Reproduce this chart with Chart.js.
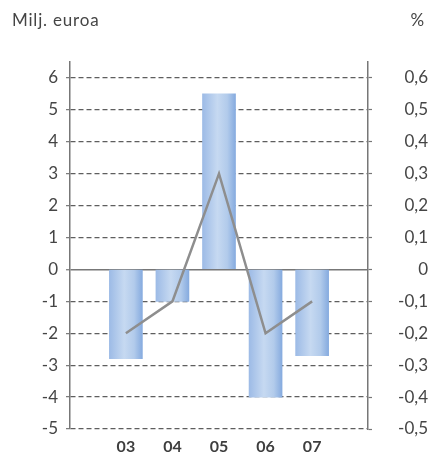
<!DOCTYPE html>
<html><head><meta charset="utf-8">
<script src="https://cdn.jsdelivr.net/npm/chart.js@4"></script>
<style>html,body{margin:0;padding:0;background:#fff}#wrap{width:428px;height:453px;position:relative}</style>
</head><body><div id="wrap"><canvas id="c" width="428" height="453"></canvas></div>
<script>
const years = [3, 4, 5, 6, 7];
const yearLabels = ['03', '04', '05', '06', '07'];
const barValues = [-2.8, -1.0, 5.5, -4.0, -2.7];      // Milj. euroa
const lineValues = [-0.2, -0.1, 0.3, -0.2, -0.1];     // %
const leftTicks = [-5, -4, -3, -2, -1, 0, 1, 2, 3, 4, 5, 6];
const rightTicks = [-0.5, -0.4, -0.3, -0.2, -0.1, 0, 0.1, 0.2, 0.3, 0.4, 0.5, 0.6];
const leftTitle = 'Milj. euroa';
const rightTitle = '%';

const FONT = 'Lato, "Noto Sans", sans-serif';
const TXT = '#454545';

function barGradient(ctx) {
  const chart = ctx.chart;
  const xs = chart.scales && chart.scales.x;
  if (!xs || ctx.dataIndex === undefined) return '#b3cceb';
  const cx = xs.getPixelForValue(years[ctx.dataIndex]);
  if (!isFinite(cx)) return '#b3cceb';
  const w = 33;
  const g = chart.ctx.createLinearGradient(cx - w / 2, 0, cx + w / 2, 0);
  g.addColorStop(0, '#9dbbe6');
  g.addColorStop(0.45, '#c6d9f1');
  g.addColorStop(0.75, '#b2cbeb');
  g.addColorStop(1, '#86abdf');
  return g;
}

const titles = {
  id: 'titles',
  afterDraw(chart) {
    const c = chart.ctx;
    c.save();
    c.fillStyle = TXT;
    c.font = '17px ' + FONT;
    c.textBaseline = 'alphabetic';
    try { c.letterSpacing = '0.8px'; } catch (e) {}
    c.textAlign = 'left';
    c.fillText(leftTitle, 12, 26);
    c.textAlign = 'right';
    c.fillText(rightTitle, 425, 26);
    c.restore();
  }
};

new Chart(document.getElementById('c'), {
  data: {
    datasets: [
      {
        type: 'line',
        data: years.map((x, i) => ({x, y: lineValues[i]})),
        yAxisID: 'y1',
        borderColor: '#8e8e8e',
        borderWidth: 2.5,
        pointRadius: 0,
        tension: 0,
        order: 0
      },
      {
        type: 'bar',
        data: years.map((x, i) => ({x, y: barValues[i]})),
        yAxisID: 'y',
        backgroundColor: barGradient,
        borderWidth: 0,
        barThickness: 33,
        order: 1
      }
    ]
  },
  options: {
    responsive: false,
    animation: false,
    events: [],
    layout: {padding: {top: 62, left: 0, right: 0, bottom: 0}},
    plugins: {legend: {display: false}, tooltip: {enabled: false}},
    scales: {
      x: {
        type: 'linear',
        offset: false,
        min: 1.8, max: 8.2,
        afterBuildTicks: s => { s.ticks = years.map(v => ({value: v})); },
        afterFit: s => { s.height = 24; s.paddingLeft = 0; s.paddingRight = 0; },
        ticks: {
          callback: v => { const i = years.indexOf(v); return i >= 0 ? yearLabels[i] : ''; },
          color: '#3e3e3e', font: {family: FONT, size: 16, weight: 'bold'}, padding: 8, maxRotation: 0, autoSkip: false
        },
        grid: {display: false, drawTicks: false, offset: false},
        border: {display: false}
      },
      y: {
        position: 'left',
        min: -5, max: 6.5,
        afterBuildTicks: s => { s.ticks = leftTicks.map(v => ({value: v})); },
        afterFit: s => { s.width = 70; s.paddingBottom = 0; s.paddingTop = 0; },
        ticks: {color: TXT, font: {family: FONT, size: 17}, padding: 8,
          callback: v => String(v)},
        grid: {
          color: ctx => ctx.tick && ctx.tick.value === 0 ? '#777777' : '#5e5e5e',
          lineWidth: ctx => ctx.tick && ctx.tick.value === 0 ? 1.5 : 1.3,
          tickLength: 4, tickColor: '#777777', tickWidth: 1.2
        },
        border: {display: true, color: '#777777', width: 1.5,
          dash: ctx => ctx.tick && ctx.tick.value === 0 ? [] : [5, 3]}
      },
      y1: {
        position: 'right',
        min: -0.5, max: 0.65,
        afterBuildTicks: s => { s.ticks = rightTicks.map(v => ({value: v})); },
        afterFit: s => { s.width = 60; s.paddingBottom = 0; s.paddingTop = 0; },
        ticks: {color: TXT, font: {family: FONT, size: 17}, padding: 22, crossAlign: 'far',
          callback: v => (Math.round(v * 10) / 10).toString().replace('.', ',')},
        grid: {drawOnChartArea: false, tickLength: 4, tickColor: '#777777', tickWidth: 1.2},
        border: {display: true, color: '#777777', width: 1.5}
      }
    }
  },
  plugins: [titles]
});
</script>
</body></html>
